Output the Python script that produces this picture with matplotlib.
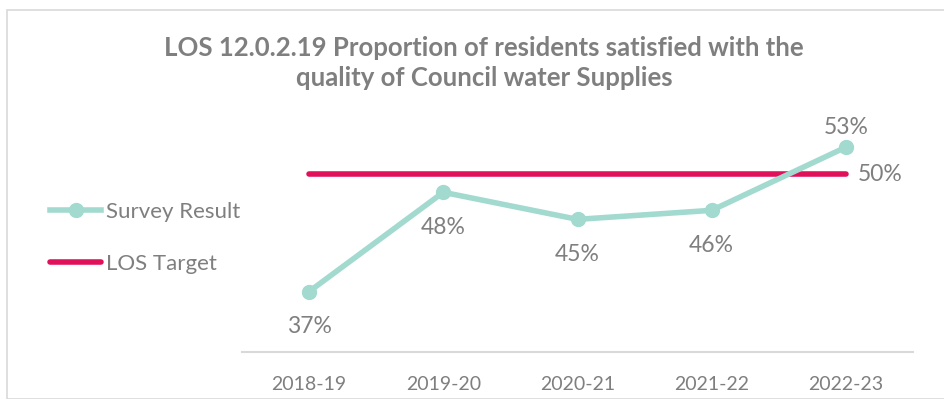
import matplotlib
matplotlib.use("Agg")
import matplotlib.pyplot as plt
from matplotlib.patches import Rectangle
from matplotlib.lines import Line2D

years = ["2018-19", "2019-20", "2020-21", "2021-22", "2022-23"]
survey = [37, 48, 45, 46, 53]
target = [50, 50, 50, 50, 50]
label_pos = ["below", "below", "below", "below", "above"]

teal = "#A2DAD0"
red = "#E0115A"
gray = "#7F7F7F"

plt.rcParams['font.family'] = ['Lato', 'DejaVu Sans']

W, H = 944, 399
fig = plt.figure(figsize=(W / 100, H / 100), dpi=100)

# frame
fig.patches.append(Rectangle((7 / W, 0), 1.2, (H - 10) / H, transform=fig.transFigure,
                             fill=False, edgecolor="#D9D9D9", linewidth=1.2))

# teal heading, cut off at the top edge (only descenders visible)
fig.text(405 / W, 1 + 6 / H, "Quality of Supply", ha="center", va="baseline",
         color="#1A9E8F", fontsize=26, fontweight="bold")

left, right = 242 / W, 913 / W
bottom, top = (H - 352) / H, (H - 84) / H
ax = fig.add_axes([left, bottom, right - left, top - bottom])
x = list(range(len(years)))
ax.plot(x, target, color=red, linewidth=4, solid_capstyle="round", zorder=2)
ax.plot(x, survey, color=teal, linewidth=4, marker="o", markersize=10, zorder=3)
ax.set_xlim(-0.5, len(years) - 0.5)
ax.set_ylim(30.3, 60)
for i, (v, p) in enumerate(zip(survey, label_pos)):
    off = -25 if p == "below" else 14
    ax.annotate(f"{v}%", (i, v), xytext=(0, off), textcoords="offset points",
                ha="center", va="center", color=gray, fontsize=16.5)
ax.annotate(f"{target[-1]}%", (len(years) - 1, target[-1]), xytext=(25, 0),
            textcoords="offset points", ha="center", va="center", color=gray, fontsize=16.5)

for s in ["top", "right", "left"]:
    ax.spines[s].set_visible(False)
ax.spines["bottom"].set_color("#D9D9D9")
ax.spines["bottom"].set_linewidth(1.5)
ax.set_yticks([])
ax.set_xticks(x)
ax.set_xticklabels(years, color=gray, fontsize=14)
ax.tick_params(axis="x", length=0, pad=17)
ax.patch.set_alpha(0)

fig.text(484 / W, 1 - 63 / H,
         "LOS 12.0.2.19 Proportion of residents satisfied with the\nquality of Council water Supplies",
         ha="center", va="center", color=gray, fontsize=18.5, fontweight="bold", linespacing=1.3)

handles = [Line2D([0], [0], color=teal, linewidth=4, marker="o", markersize=10),
           Line2D([0], [0], color=red, linewidth=4, solid_capstyle="round")]
fig.legend(handles, ["Survey Result", "LOS Target"], loc="center left",
           bbox_to_anchor=(30 / W, 1 - 238 / H), frameon=False, fontsize=16,
           labelcolor=gray, handlelength=2.3, handletextpad=0.2, labelspacing=1.45)

fig.savefig("out.png", dpi=100)
